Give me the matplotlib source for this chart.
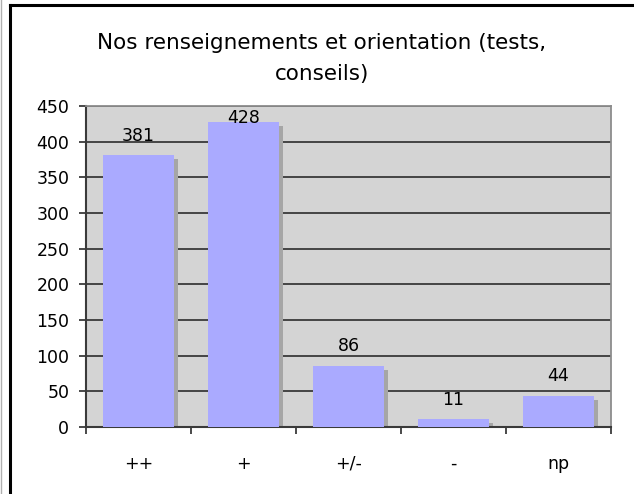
import numpy as np
import matplotlib
matplotlib.use("Agg")
import matplotlib.pyplot as plt
import matplotlib.transforms as mtransforms
from matplotlib.lines import Line2D

categories = ["++", "+", "+/-", "-", "np"]
values = [381, 428, 86, 11, 44]
title = "Nos renseignements et orientation (tests,\nconseils)"

fig = plt.figure(figsize=(6.34, 4.94), dpi=100)
fig.patch.set_facecolor("white")

# outer chart frame (left and top edges visible)
fig.add_artist(Line2D([9.5/634, 9.5/634], [0, 1 - 5/494], color="black", lw=2.2))
fig.add_artist(Line2D([9.5/634, 1], [1 - 5/494, 1 - 5/494], color="black", lw=2.2))
fig.add_artist(Line2D([1/634, 1/634], [0, 1], color="#b0b0b0", lw=1))

ax = fig.add_axes([86/634, 1 - 427/494, (611 - 86)/634, (427 - 106)/494])
ax.set_facecolor("#d4d4d4")

x = np.arange(len(categories))
width = 0.67

# shadow, shifted 4px right and 4px down
shadow = ax.transData + mtransforms.ScaledTranslation(4/100, -4/100, fig.dpi_scale_trans)
ax.bar(x, values, width, color="#a6a6a6", transform=shadow, zorder=2)
ax.bar(x, values, width, color="#aaaaff", zorder=3)

for xi, v in zip(x, values):
    ax.text(xi, min(v + 27, 433), str(v), ha="center", va="center", fontsize=12.5, zorder=4)

ax.set_ylim(0, 450)
ax.set_xlim(-0.5, len(categories) - 0.5)
ax.set_yticks(np.arange(0, 451, 50))
ax.yaxis.grid(True, color="#3a3a3a", lw=1.3)
ax.set_axisbelow(True)

ax.set_xticks(np.arange(-0.5, len(categories), 1))
ax.set_xticklabels([])
ax.set_xticks(x, minor=True)
ax.set_xticklabels(categories, minor=True)
ax.tick_params(axis="x", which="minor", length=0, pad=20, labelsize=12.5)
ax.tick_params(axis="x", which="major", length=5, width=1.3, color="#3a3a3a", direction="out")
ax.tick_params(axis="y", length=5, width=1.3, color="#3a3a3a", labelsize=12.5, pad=7)

for s in ["left", "bottom"]:
    ax.spines[s].set_color("#3a3a3a")
    ax.spines[s].set_linewidth(1.5)
for s in ["top", "right"]:
    ax.spines[s].set_color("#8c8c8c")
    ax.spines[s].set_linewidth(1.3)

fig.text(322/634, 1 - 58.5/494, title, ha="center", va="center", fontsize=15.5, linespacing=1.7)

fig.savefig("out.png", dpi=100)
